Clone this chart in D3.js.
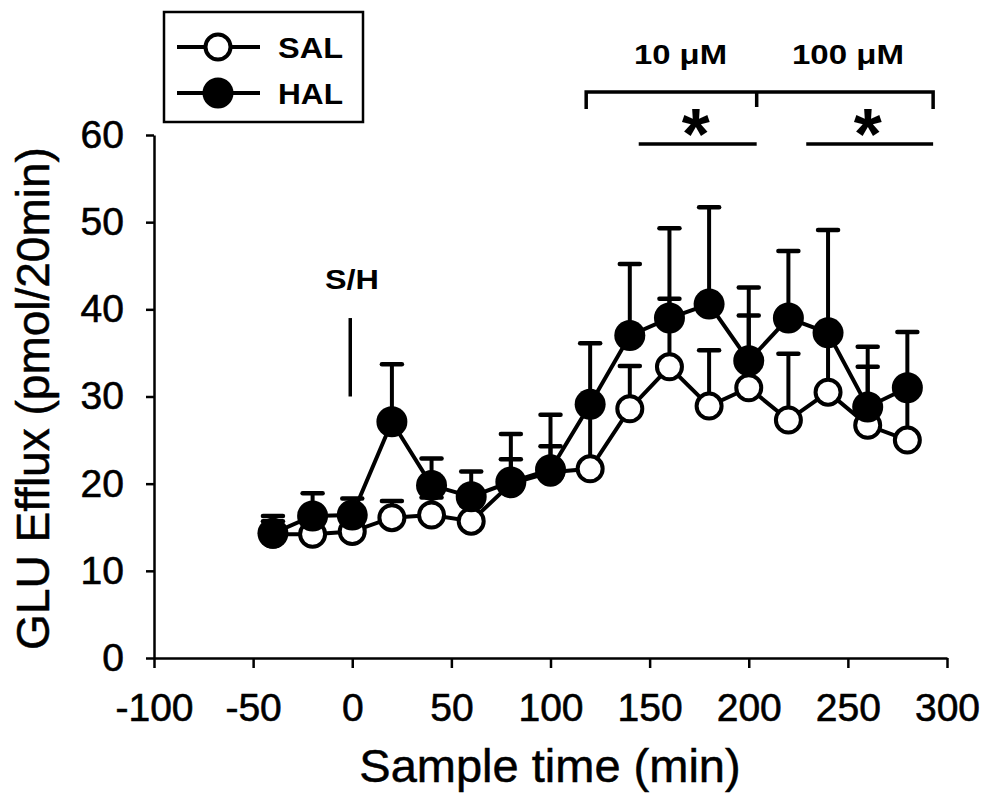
<!DOCTYPE html>
<html>
<head>
<meta charset="utf-8">
<script src="https://cdn.jsdelivr.net/npm/d3@7"></script>
<style>
  html, body { margin: 0; padding: 0; background: #fff; }
  svg { display: block; font-family: "Liberation Sans", Arial, Helvetica, sans-serif; }
</style>
</head>
<body>
<svg id="chart" width="988" height="795"></svg>
<script>
// ---- data ----
const times = [-40, -20, 0, 20, 40, 60, 80, 100, 120, 140, 160, 180, 200, 220, 240, 260, 280];
const salMean = [14.2, 14.2, 14.5, 16.1, 16.4, 15.7, 20.0, 21.3, 21.7, 28.6, 33.4, 28.9, 31.0, 27.3, 30.5, 26.7, 25.0];
const salErr  = [1.5, 1.5, 1.3, 1.9, 2.0, 1.8, 2.8, 3.0, 7.3, 4.9, 7.8, 6.4, 8.3, 7.6, 6.0, 6.7, 5.5];
const halMean = [14.3, 16.3, 16.4, 27.1, 19.8, 18.5, 20.2, 21.6, 29.1, 37.0, 39.0, 40.6, 34.1, 39.0, 37.3, 28.8, 31.0];
const halErr  = [2.0, 2.6, 1.9, 6.6, 3.1, 2.9, 5.5, 6.3, 7.0, 8.2, 10.3, 11.1, 8.4, 7.7, 11.8, 6.9, 6.4];
const xTicks = [-100, -50, 0, 50, 100, 150, 200, 250, 300];
const yTicks = [0, 10, 20, 30, 40, 50, 60];
const seriesNames = ["SAL", "HAL"];
const xLabel = "Sample time (min)";
const yLabel = "GLU Efflux (pmol/20min)";
// annotations (data units)
const injection = { label: "S/H", x: -1, y0: 30, y1: 39 };
const doseRanges = [
  { label: "10 \u03BCM", x0: 118, x1: 204 },
  { label: "100 \u03BCM", x0: 204, x1: 293 }
];
const sigRanges = [
  { x0: 144.5, x1: 204 },
  { x0: 229, x1: 293 }
];

// ---- layout ----
const svg = d3.select("#chart");
const x = d3.scaleLinear().domain([-100, 300]).range([154, 947]);
const y = d3.scaleLinear().domain([0, 60]).range([658, 135]);

// axes
const gx = svg.append("g").attr("transform", `translate(0,${y(0)})`)
  .call(d3.axisBottom(x).tickValues(xTicks).tickSize(10).tickSizeOuter(0).tickPadding(25).tickFormat(d3.format("d")));
const gy = svg.append("g").attr("transform", `translate(${x(-100)},0)`)
  .call(d3.axisLeft(y).tickValues(yTicks).tickSize(8).tickSizeOuter(0).tickPadding(22));
[gx, gy].forEach(g => {
  g.select(".domain").attr("stroke", "#000").attr("stroke-width", 2.5);
  g.selectAll(".tick line").attr("stroke", "#000").attr("stroke-width", 2.5);
  g.selectAll(".tick text").attr("font-size", 39).attr("fill", "#000")
    .attr("stroke", "#000").attr("stroke-width", 0.6)
    .attr("font-family", "'Liberation Sans', Arial, sans-serif");
});
gx.selectAll(".tick text").text(d => d < 0 ? "-" + Math.abs(d) : d);

// axis titles
svg.append("text").attr("x", 550).attr("y", 782)
  .attr("text-anchor", "middle").attr("font-size", 47).attr("fill", "#000")
  .attr("stroke", "#000").attr("stroke-width", 0.5).text(xLabel);
svg.append("text").attr("transform", `translate(49,${(y(0) + y(60)) / 2 + 2}) rotate(-90)`)
  .attr("text-anchor", "middle").attr("font-size", 46).attr("fill", "#000")
  .attr("stroke", "#000").attr("stroke-width", 0.5).text(yLabel);

// helper for series
function drawSeries(mean, err, filled) {
  const data = times.map((t, i) => ({ t, m: mean[i], e: err[i] }));
  const g = svg.append("g");
  // error bars (upper only)
  g.selectAll("line.stem").data(data).enter().append("line")
    .attr("x1", d => x(d.t)).attr("x2", d => x(d.t))
    .attr("y1", d => y(d.m)).attr("y2", d => y(d.m + d.e))
    .attr("stroke", "#000").attr("stroke-width", 4);
  g.selectAll("line.cap").data(data).enter().append("line")
    .attr("x1", d => x(d.t) - 10).attr("x2", d => x(d.t) + 10)
    .attr("y1", d => y(d.m + d.e)).attr("y2", d => y(d.m + d.e))
    .attr("stroke", "#000").attr("stroke-width", 4.5).attr("stroke-linecap", "round");
  // line
  g.append("path").datum(data)
    .attr("d", d3.line().x(d => x(d.t)).y(d => y(d.m)))
    .attr("fill", "none").attr("stroke", "#000").attr("stroke-width", 4);
  // markers
  g.selectAll("circle").data(data).enter().append("circle")
    .attr("cx", d => x(d.t)).attr("cy", d => y(d.m))
    .attr("r", filled ? 15.5 : 12.5)
    .attr("fill", filled ? "#000" : "#fff")
    .attr("stroke", "#000").attr("stroke-width", filled ? 0 : 4);
}
drawSeries(salMean, salErr, false);
drawSeries(halMean, halErr, true);

// S/H injection marker
svg.append("line").attr("x1", x(injection.x)).attr("x2", x(injection.x))
  .attr("y1", y(injection.y0)).attr("y2", y(injection.y1))
  .attr("stroke", "#000").attr("stroke-width", 3.5);
svg.append("text").attr("x", 325).attr("y", 289).attr("font-size", 28).attr("font-weight", "bold")
  .attr("textLength", 54).attr("lengthAdjust", "spacingAndGlyphs").text(injection.label);

// dose bracket
const bracketY = 92, bracketDrop = 17;
const bx0 = x(doseRanges[0].x0), bxm = x(doseRanges[0].x1), bx1 = x(doseRanges[1].x1);
svg.append("path")
  .attr("d", `M${bx0},${bracketY + bracketDrop} V${bracketY} H${bx1} V${bracketY + bracketDrop} M${bxm},${bracketY} V${bracketY + 15}`)
  .attr("fill", "none").attr("stroke", "#000").attr("stroke-width", 3.5);
const doseTextX = [634, 792], doseTextW = [93, 112];
doseRanges.forEach((d, i) => {
  svg.append("text").attr("x", doseTextX[i]).attr("y", 64).attr("font-size", 28).attr("font-weight", "bold")
    .attr("textLength", doseTextW[i]).attr("lengthAdjust", "spacingAndGlyphs").text(d.label);
});
// significance lines + asterisks
sigRanges.forEach(s => {
  svg.append("line").attr("x1", x(s.x0)).attr("x2", x(s.x1)).attr("y1", 144).attr("y2", 144)
    .attr("stroke", "#000").attr("stroke-width", 3.5);
  svg.append("text").attr("x", (x(s.x0) + x(s.x1)) / 2 - 2).attr("y", 159)
    .attr("text-anchor", "middle").attr("font-size", 72).attr("font-weight", "bold").text("*");
});

// legend
svg.append("rect").attr("x", 164).attr("y", 12).attr("width", 199).attr("height", 110)
  .attr("fill", "none").attr("stroke", "#000").attr("stroke-width", 2.5);
const legY = [47, 93];
seriesNames.forEach((name, i) => {
  const filled = i === 1;
  svg.append("line").attr("x1", 177).attr("x2", 260).attr("y1", legY[i]).attr("y2", legY[i])
    .attr("stroke", "#000").attr("stroke-width", 4);
  svg.append("circle").attr("cx", 218).attr("cy", legY[i]).attr("r", filled ? 15.5 : 12.5)
    .attr("fill", filled ? "#000" : "#fff").attr("stroke", "#000").attr("stroke-width", filled ? 0 : 4);
  svg.append("text").attr("x", 278).attr("y", legY[i] + 11).attr("font-size", 30).attr("font-weight", "bold")
    .attr("textLength", 65).attr("lengthAdjust", "spacingAndGlyphs").text(name);
});
</script>
</body>
</html>
